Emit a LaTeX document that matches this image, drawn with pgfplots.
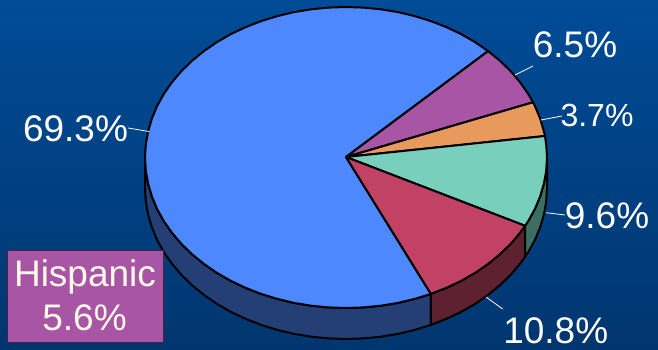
\documentclass[border=0pt]{standalone}
\usepackage{pgfplots}
\pgfplotsset{compat=1.18}
\usepackage{fontspec}
\setmainfont{Liberation Sans}
\definecolor{cBlue}{HTML}{4D88FF}
\definecolor{cPurple}{HTML}{A855A5}
\definecolor{cOrange}{HTML}{E89A5C}
\definecolor{cTeal}{HTML}{78D0BC}
\definecolor{cRed}{HTML}{C24265}
\definecolor{sBlue}{HTML}{233F75}
\definecolor{sRed}{HTML}{5E2130}
\definecolor{sTeal}{HTML}{3D6E64}
\definecolor{bgTop}{HTML}{004C97}
\definecolor{bgBot}{HTML}{00366F}
\definecolor{cream}{HTML}{FFFBE6}
\tikzset{lab/.style={font=\fontsize{37}{37}\selectfont,text=white,inner sep=0pt,anchor=base}}
\begin{document}
\begin{tikzpicture}
\shade[top color=bgTop,bottom color=bgBot] (0,0) rectangle (658pt,350pt);
\begin{axis}[
  scale only axis,width=658pt,height=350pt,
  xmin=0,xmax=658,ymin=0,ymax=350,y dir=reverse,
  hide axis,clip=true,
  every axis plot/.append style={mark=none,draw=black,line width=2pt,line join=round},
]
% sides
\addplot[fill=sBlue] coordinates {(145.0,157.5)(145.8,170.6)(148.1,183.6)(151.9,196.5)(157.1,209.0)(163.8,221.1)(171.9,232.7)(181.3,243.8)(192.0,254.2)(203.9,263.9)(216.8,272.8)(230.7,280.8)(245.5,287.8)(261.1,293.9)(277.3,298.9)(294.0,302.9)(311.1,305.7)(328.5,307.4)(346.0,308.0)(363.5,307.4)(380.9,305.7)(398.0,302.9)(414.7,298.9)(430.9,293.9)
(430.9,324.9)(414.7,329.9)(398.0,333.9)(380.9,336.7)(363.5,338.4)(346.0,339.0)(328.5,338.4)(311.1,336.7)(294.0,333.9)(277.3,329.9)(261.1,324.9)(245.5,318.8)(230.7,311.8)(216.8,303.8)(203.9,294.9)(192.0,285.2)(181.3,274.8)(171.9,263.7)(163.8,252.1)(157.1,240.0)(151.9,227.5)(148.1,214.6)(145.8,201.6)(145.0,188.5)} --cycle;
\addplot[fill=sRed] coordinates {(430.9,293.9)(446.5,287.8)(461.3,280.8)(475.2,272.8)(488.1,263.9)(500.0,254.2)(510.7,243.8)(520.1,232.7)(525.1,225.8)
(525.1,256.8)(520.1,263.7)(510.7,274.8)(500.0,285.2)(488.1,294.9)(475.2,303.8)(461.3,311.8)(446.5,318.8)(430.9,324.9)} --cycle;
\addplot[fill=sTeal] coordinates {(525.1,225.8)(528.2,221.1)(534.9,209.0)(540.1,196.5)(543.9,183.6)(546.2,170.6)(547.0,157.5)
(547.0,188.5)(546.2,201.6)(543.9,214.6)(540.1,227.5)(534.9,240.0)(528.2,252.1)(525.1,256.8)} --cycle;
% top face
\addplot[fill=cBlue] coordinates {(346,157)(488.1,51.1)(475.2,42.2)(461.3,34.2)(446.5,27.2)(430.9,21.1)(414.7,16.1)(398.0,12.1)(380.9,9.3)(363.5,7.6)(346.0,7.0)(328.5,7.6)(311.1,9.3)(294.0,12.1)(277.3,16.1)(261.1,21.1)(245.5,27.2)(230.7,34.2)(216.8,42.2)(203.9,51.1)(192.0,60.8)(181.3,71.2)(171.9,82.3)(163.8,93.9)(157.1,106.0)(151.9,118.5)(148.1,131.4)(145.8,144.4)(145.0,157.5)(145.8,170.6)(148.1,183.6)(151.9,196.5)(157.1,209.0)(163.8,221.1)(171.9,232.7)(181.3,243.8)(192.0,254.2)(203.9,263.9)(216.8,272.8)(230.7,280.8)(245.5,287.8)(261.1,293.9)(277.3,298.9)(294.0,302.9)(311.1,305.7)(328.5,307.4)(346.0,308.0)(363.5,307.4)(380.9,305.7)(398.0,302.9)(414.7,298.9)(430.9,293.9)} --cycle;
\addplot[fill=cPurple] coordinates {(346,157)(533.0,102.3)(528.2,93.9)(520.1,82.3)(510.7,71.2)(500.0,60.8)(488.1,51.1)} --cycle;
\addplot[fill=cOrange] coordinates {(346,157)(545.0,136.0)(543.9,131.4)(540.1,118.5)(534.9,106.0)(533.0,102.3)} --cycle;
\addplot[fill=cTeal] coordinates {(346,157)(525.1,225.8)(528.2,221.1)(534.9,209.0)(540.1,196.5)(543.9,183.6)(546.2,170.6)(547.0,157.5)(546.2,144.4)(545.0,136.0)} --cycle;
\addplot[fill=cRed] coordinates {(346,157)(430.9,293.9)(446.5,287.8)(461.3,280.8)(475.2,272.8)(488.1,263.9)(500.0,254.2)(510.7,243.8)(520.1,232.7)(525.1,225.8)} --cycle;
% leaders
\addplot[draw=white,line width=0.8pt] coordinates {(128,128)(149,131.5)};
\addplot[draw=white,line width=0.8pt] coordinates {(533,66)(515,75)};
\addplot[draw=white,line width=0.8pt] coordinates {(562,116)(541,120)};
\addplot[draw=white,line width=0.8pt] coordinates {(565,215)(546,212.7)};
\addplot[draw=white,line width=0.8pt] coordinates {(502.7,309)(486,297)};
% box
\addplot[draw=black!60!cPurple,line width=1pt,fill=cPurple] coordinates {(7,250)(163,250)(163,342)(7,342)} --cycle;
% labels
\node[lab] at (axis cs:75.5,142) {69.3\%};
\node[lab] at (axis cs:575,58) {6.5\%};
\node[lab,font=\fontsize{32}{32}\selectfont] at (axis cs:597,127) {3.7\%};
\node[lab] at (axis cs:607,228) {9.6\%};
\node[lab] at (axis cs:555.7,343) {10.8\%};
\node[lab,text=cream] at (axis cs:85,286.5) {Hispanic};
\node[lab,text=cream] at (axis cs:84.5,330.5) {5.6\%};
\end{axis}
\end{tikzpicture}
\end{document}
